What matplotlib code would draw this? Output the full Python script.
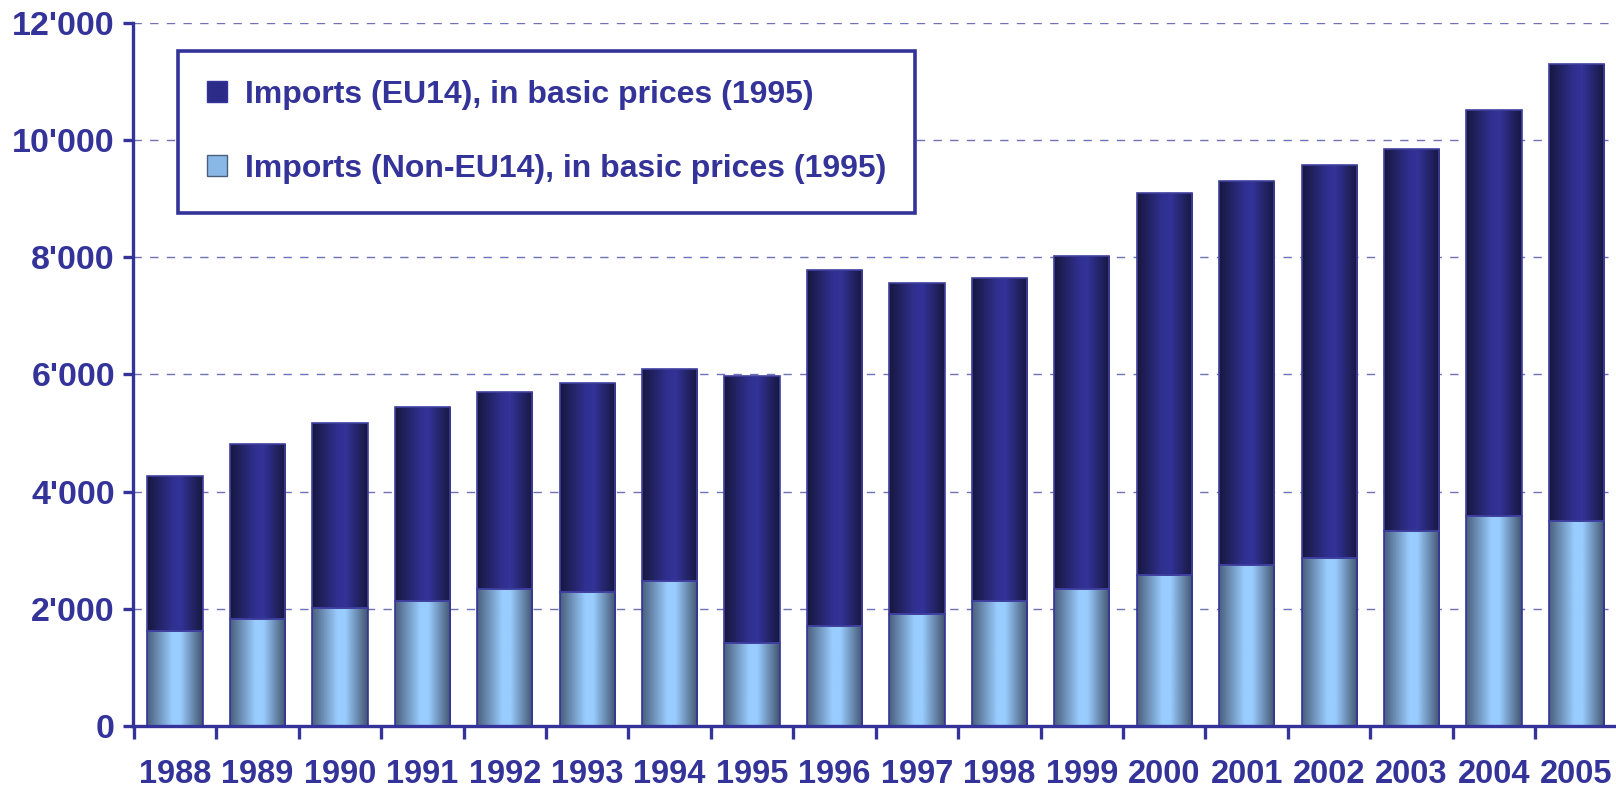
import numpy as np
import matplotlib
matplotlib.use('Agg')
import matplotlib.pyplot as plt
from matplotlib.colors import LinearSegmentedColormap
from matplotlib.patches import Patch
from matplotlib.ticker import FuncFormatter, FixedLocator

plt.rcParams['font.family'] = ['Liberation Sans', 'DejaVu Sans']
plt.rcParams['font.weight'] = 'bold'

years = ['1988', '1989', '1990', '1991', '1992', '1993', '1994', '1995', '1996',
         '1997', '1998', '1999', '2000', '2001', '2002', '2003', '2004', '2005']
# Non-EU14 imports (bottom part of the stack)
non_eu = [1620, 1830, 2020, 2130, 2340, 2290, 2480, 1410, 1710,
          1920, 2130, 2340, 2570, 2750, 2870, 3330, 3590, 3500]
# EU14 imports (top part of the stack)
eu = [2640, 2990, 3150, 3320, 3360, 3570, 3610, 4570, 6070,
      5650, 5520, 5680, 6530, 6560, 6700, 6520, 6930, 7800]

lab_eu = 'Imports (EU14), in basic prices (1995)'
lab_non = 'Imports (Non-EU14), in basic prices (1995)'

navy = '#333399'
cm_dark = LinearSegmentedColormap.from_list(
    'dark', [(0, '#17173f'), (0.45, '#303090'), (0.6, '#333399'), (1, '#17173f')])
cm_light = LinearSegmentedColormap.from_list(
    'light', [(0, '#4a5f7c'), (0.45, '#99ccff'), (0.6, '#99ccff'), (1, '#42546e')])

fig = plt.figure(figsize=(16.16, 7.88), dpi=100)
ax = fig.add_axes([0.0823, 0.0787, 0.9177, 0.8921])

x = np.arange(len(years))
w = 0.67
b1 = ax.bar(x, non_eu, w, facecolor='none', edgecolor=navy, lw=1.2, zorder=3)
b2 = ax.bar(x, eu, w, bottom=non_eu, facecolor='none', edgecolor='#4040a0', lw=1.2, zorder=3)

grad = np.linspace(0, 1, 128).reshape(1, -1)
for bars, cm in [(b1, cm_light), (b2, cm_dark)]:
    for r in bars:
        x0, y0 = r.get_x(), r.get_y()
        im = ax.imshow(grad, extent=[x0, x0 + r.get_width(), y0, y0 + r.get_height()],
                       aspect='auto', cmap=cm, zorder=2, interpolation='bilinear')
        im.set_clip_path(r)

ax.set_xlim(-0.51, len(years) - 0.52)
ax.set_ylim(0, 12000)

# spines
for s in ['top', 'right']:
    ax.spines[s].set_visible(False)
for s in ['left', 'bottom']:
    ax.spines[s].set_color(navy)
    ax.spines[s].set_linewidth(2.4)

ax.yaxis.set_major_locator(FixedLocator(np.arange(0, 12001, 2000)))
ax.yaxis.set_major_formatter(FuncFormatter(lambda v, p: f"{int(v):,}".replace(',', "'")))
ax.tick_params(axis='y', colors=navy, labelsize=24.5, length=7, width=2.4, pad=6)

ax.xaxis.set_major_locator(FixedLocator(np.arange(len(years)) - 0.5))
ax.xaxis.set_minor_locator(FixedLocator(x))
ax.set_xticklabels([], minor=False)
ax.set_xticklabels(years, minor=True)
ax.tick_params(axis='x', which='major', colors=navy, length=9, width=2.4)
ax.tick_params(axis='x', which='minor', colors=navy, length=0, labelsize=23.5, pad=24)
for t in ax.get_xticklabels(minor=True) + ax.get_yticklabels():
    t.set_fontweight('bold')

ax.grid(axis='y', color='#7070b8', linestyle=(0, (6, 6)), linewidth=1.0, zorder=0)
ax.set_axisbelow(True)

handles = [Patch(facecolor='#2c2c88', edgecolor=navy, label=lab_eu),
           Patch(facecolor='#8ab8e6', edgecolor='#4a5f7c', label=lab_non)]
leg = ax.legend(handles=handles, loc='upper left', bbox_to_anchor=(0.0303, 0.96),
                borderaxespad=0, fancybox=False, framealpha=1, edgecolor=navy,
                prop={'size': 23, 'weight': 'bold'}, borderpad=0.9,
                handlelength=0.65, handleheight=0.65, handletextpad=0.55,
                labelspacing=1.38)
leg.get_frame().set_linewidth(2.6)
for t in leg.get_texts():
    t.set_color(navy)
leg.set_zorder(5)

fig.savefig('out.png', dpi=100)
